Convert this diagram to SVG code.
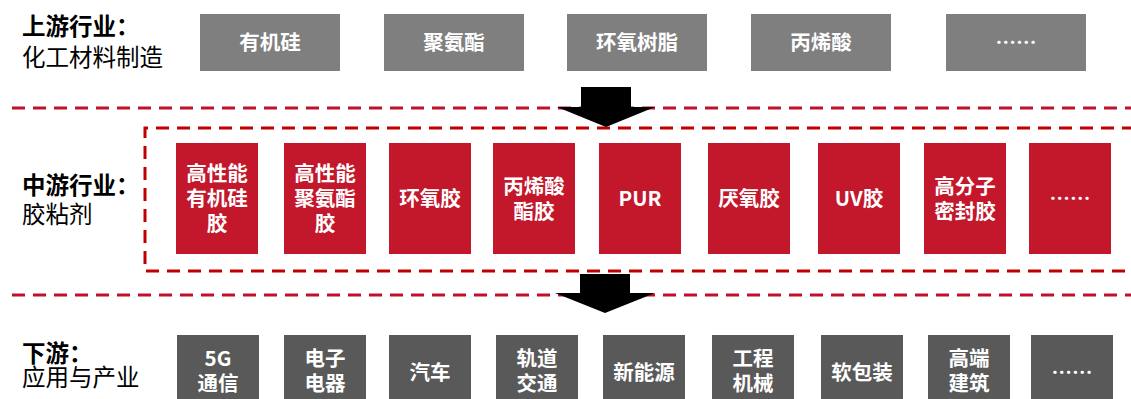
<svg xmlns="http://www.w3.org/2000/svg" width="1131" height="399" viewBox="0 0 1131 399">
<style>
.lbl{font-family:"Noto Sans CJK SC","Microsoft YaHei",sans-serif;font-size:23.5px;fill:#000}
.b{font-weight:bold}
.n{font-weight:normal}
.t{font-family:"Noto Sans CJK SC","Microsoft YaHei",sans-serif;font-size:20.5px;font-weight:bold;fill:#fff;text-anchor:middle}
.up{fill:#7F7F7F}
.mid{fill:#C3172B}
.dn{fill:#595959}
.dash{fill:none;stroke:#C0102A;stroke-width:3;stroke-dasharray:13 8}
.dash2{fill:none;stroke:#C00000;stroke-width:3;stroke-dasharray:13 8}
.arr{fill:#000}
</style>
<rect width="1131" height="399" fill="#fff"/>
<g id="separators">
<line class="dash" x1="12" y1="108" x2="1131" y2="108"/>
<line class="dash" x1="12" y1="295" x2="1131" y2="295"/>
<path class="dash2" d="M1135,128 H145 V271 H1135"/>
</g>
<g id="labels">
<text class="lbl"><tspan class="b" x="22" y="35">上游行业：</tspan><tspan class="n" x="22" y="66">化工材料制造</tspan></text>
<text class="lbl"><tspan class="b" x="22" y="194">中游行业：</tspan><tspan class="n" x="22" y="223">胶粘剂</tspan></text>
<text class="lbl"><tspan class="b" x="22" y="362">下游：</tspan><tspan class="n" x="22" y="386">应用与产业</tspan></text>
</g>
<g id="u1"><rect class="up" x="200" y="14" width="140" height="57"/><text class="t" x="270" y="50">有机硅</text></g>
<g id="u2"><rect class="up" x="384" y="14" width="140" height="57"/><text class="t" x="454" y="50">聚氨酯</text></g>
<g id="u3"><rect class="up" x="567" y="14" width="140" height="57"/><text class="t" x="637" y="50">环氧树脂</text></g>
<g id="u4"><rect class="up" x="751" y="14" width="140" height="57"/><text class="t" x="821" y="50">丙烯酸</text></g>
<g id="u5"><rect class="up" x="946" y="14" width="140" height="57"/><text class="t" x="1016" y="50">……</text></g>

<g id="m1"><rect class="mid" x="176" y="143" width="82" height="111"/><text class="t"><tspan x="217" y="181">高性能</tspan><tspan x="217" y="206">有机硅</tspan><tspan x="217" y="231">胶</tspan></text></g>
<g id="m2"><rect class="mid" x="284" y="143" width="82" height="111"/><text class="t"><tspan x="325" y="181">高性能</tspan><tspan x="325" y="206">聚氨酯</tspan><tspan x="325" y="231">胶</tspan></text></g>
<g id="m3"><rect class="mid" x="389" y="143" width="82" height="111"/><text class="t" x="430" y="206">环氧胶</text></g>
<g id="m4"><rect class="mid" x="493" y="143" width="82" height="111"/><text class="t"><tspan x="534" y="194">丙烯酸</tspan><tspan x="534" y="219">酯胶</tspan></text></g>
<g id="m5"><rect class="mid" x="599" y="143" width="82" height="111"/><text class="t" x="640" y="206">PUR</text></g>
<g id="m6"><rect class="mid" x="708" y="143" width="82" height="111"/><text class="t" x="749" y="206">厌氧胶</text></g>
<g id="m7"><rect class="mid" x="818" y="143" width="82" height="111"/><text class="t" x="859" y="206">UV胶</text></g>
<g id="m8"><rect class="mid" x="924" y="143" width="82" height="111"/><text class="t"><tspan x="965" y="194">高分子</tspan><tspan x="965" y="219">密封胶</tspan></text></g>
<g id="m9"><rect class="mid" x="1029" y="143" width="82" height="111"/><text class="t" x="1070" y="206">……</text></g>

<g id="d1"><rect class="dn" x="177" y="335" width="82" height="72"/><text class="t"><tspan x="218" y="366">5G</tspan><tspan x="218" y="391">通信</tspan></text></g>
<g id="d2"><rect class="dn" x="284" y="335" width="82" height="72"/><text class="t"><tspan x="325" y="366">电子</tspan><tspan x="325" y="391">电器</tspan></text></g>
<g id="d3"><rect class="dn" x="389" y="335" width="82" height="72"/><text class="t" x="430" y="380">汽车</text></g>
<g id="d4"><rect class="dn" x="496" y="335" width="82" height="72"/><text class="t"><tspan x="537" y="366">轨道</tspan><tspan x="537" y="391">交通</tspan></text></g>
<g id="d5"><rect class="dn" x="603" y="335" width="82" height="72"/><text class="t" x="644" y="380">新能源</text></g>
<g id="d6"><rect class="dn" x="712" y="335" width="82" height="72"/><text class="t"><tspan x="753" y="366">工程</tspan><tspan x="753" y="391">机械</tspan></text></g>
<g id="d7"><rect class="dn" x="821" y="335" width="82" height="72"/><text class="t" x="862" y="380">软包装</text></g>
<g id="d8"><rect class="dn" x="928" y="335" width="82" height="72"/><text class="t"><tspan x="969" y="366">高端</tspan><tspan x="969" y="391">建筑</tspan></text></g>
<g id="d9"><rect class="dn" x="1031" y="335" width="82" height="72"/><text class="t" x="1072" y="380">……</text></g>

<g id="connectors">
<polygon class="arr" points="581,87 631,87 631,107 655,107 606,127 557,107 581,107"/>
<polygon class="arr" points="580,274 630,274 630,293 655,293 605,313 555,293 580,293"/>
</g>
</svg>
